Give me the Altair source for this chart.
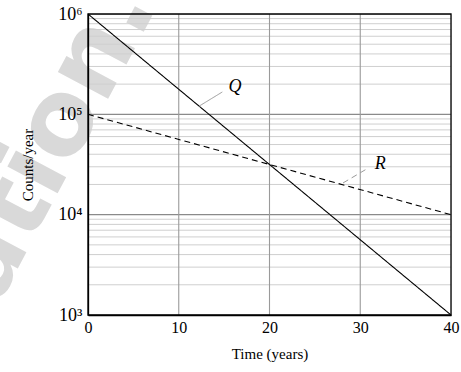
import altair as alt
import pandas as pd

# Data
times = [0, 40]
q_counts = [1e6, 1e3]
r_counts = [1e5, 1e4]

label_names = ["Q", "R"]
label_x = [16.2, 32.2]
label_y = [10 ** 5.27, 10 ** 4.505]
leader_x1 = [12.2, 28.1]
leader_y1 = [1.2e5, 2.07e4]
leader_x2 = [14.8, 30.7]
leader_y2 = [1.67e5, 2.85e4]
leader_dash = ["solid", "dashed"]

x_ticks = [0, 10, 20, 30, 40]
x_grid = [10, 20, 30]
y_major = [1e4, 1e5]
y_minor = [m * 10 ** e for e in range(3, 6) for m in range(2, 10)]
y_labels = [1e3, 1e4, 1e5, 1e6]

watermark = ["ation."]
wm_x = [-4.2]
wm_y = [5.3e4]

lines = pd.DataFrame({
    "t": times * 2,
    "c": q_counts + r_counts,
    "s": ["Q"] * 2 + ["R"] * 2,
})
labels = pd.DataFrame({"name": label_names, "x": label_x, "y": label_y})
leaders = pd.DataFrame({"x": leader_x1, "y": leader_y1, "x2": leader_x2,
                        "y2": leader_y2, "d": leader_dash})
wm = pd.DataFrame({"txt": watermark, "x": wm_x, "y": wm_y})
frame = pd.DataFrame({"x": [x_ticks[0]], "x2": [x_ticks[-1]],
                      "y": [y_labels[0]], "y2": [y_labels[-1]]})

FONT = "Liberation Serif"

xscale = alt.Scale(domain=[0, 40], nice=False, zero=False)
yscale = alt.Scale(type="log", domain=[1e3, 1e6], nice=False)

xaxis = alt.Axis(values=x_ticks, title="Time (years)", grid=False,
                 ticks=False, domainColor="black", domainWidth=1.3, labelFont=FONT,
                 labelFontSize=16, labelColor="black", labelPadding=4,
                 titleFont=FONT, titleFontSize=15, titleFontWeight="normal",
                 titleColor="black", titlePadding=11, labelFlush=False, zindex=1)
yaxis = alt.Axis(values=y_labels, title="Counts/year", grid=False,
                 ticks=False, domainColor="black", domainWidth=1.3,
                 labelExpr="datum.value == 1000 ? '10³' : datum.value == 10000 ? '10⁴' : datum.value == 100000 ? '10⁵' : '10⁶'",
                 labelFont=FONT, labelFontSize=18, labelColor="black",
                 labelPadding=6, titleFont=FONT, titleFontSize=15,
                 titleFontWeight="normal", titleColor="black", titlePadding=22,
                 labelFlush=False, zindex=1)

wm_layer = alt.Chart(wm).mark_text(
    font="DejaVu Sans", fontWeight="bold", fontSize=104, color="#d9d9d9",
    angle=298, align="center", baseline="middle"
).encode(x=alt.X("x:Q", scale=xscale, axis=xaxis),
         y=alt.Y("y:Q", scale=yscale, axis=yaxis), text="txt:N")

minor_layer = alt.Chart(pd.DataFrame({"v": y_minor})).mark_rule(
    color="#cfcfcf", strokeWidth=1).encode(y=alt.Y("v:Q", scale=yscale))
major_layer = alt.Chart(pd.DataFrame({"v": y_major})).mark_rule(
    color="#8a8a8a", strokeWidth=1.1).encode(y=alt.Y("v:Q", scale=yscale))
vgrid_layer = alt.Chart(pd.DataFrame({"v": x_grid})).mark_rule(
    color="#9a9a9a", strokeWidth=1.1).encode(x=alt.X("v:Q", scale=xscale))

line_layer = alt.Chart(lines).mark_line(color="black", strokeWidth=1.1).encode(
    x=alt.X("t:Q", scale=xscale),
    y=alt.Y("c:Q", scale=yscale),
    detail="s:N",
    strokeDash=alt.StrokeDash("s:N", scale=alt.Scale(domain=["Q", "R"], range=[[1, 0], [6, 4]]), legend=None),
)

leader_layer = alt.Chart(leaders).mark_rule(color="#9a9a9a", strokeWidth=1).encode(
    x=alt.X("x:Q", scale=xscale), y=alt.Y("y:Q", scale=yscale),
    x2="x2:Q", y2="y2:Q",
    strokeDash=alt.StrokeDash("d:N", scale=alt.Scale(domain=["solid", "dashed"], range=[[1, 0], [3, 2]]), legend=None),
)

label_layer = alt.Chart(labels).mark_text(
    font=FONT, fontStyle="italic", fontSize=18, color="black", align="center", baseline="middle"
).encode(x=alt.X("x:Q", scale=xscale), y=alt.Y("y:Q", scale=yscale), text="name:N")

frame_layer = alt.Chart(frame).mark_rect(
    fillOpacity=0, stroke="black", strokeWidth=1.3
).encode(x=alt.X("x:Q", scale=xscale), x2="x2:Q",
         y=alt.Y("y:Q", scale=yscale), y2="y2:Q")

chart = alt.layer(wm_layer, minor_layer, major_layer, vgrid_layer, line_layer,
                  leader_layer, label_layer, frame_layer).properties(
    width=363, height=301,
    autosize=alt.AutoSizeParams(type="none"),
    padding={"left": 88, "top": 14, "right": 10, "bottom": 57},
).configure_view(stroke=None).configure(background="white")

chart.save("out.html", embed_options={"renderer": "svg", "actions": False})
